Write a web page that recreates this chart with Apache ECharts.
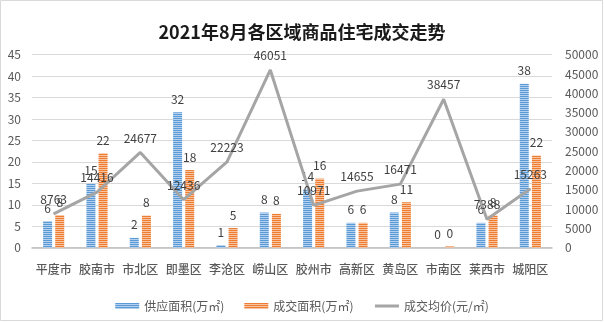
<!DOCTYPE html>
<html><head><meta charset="utf-8">
<script src="https://cdn.jsdelivr.net/npm/echarts@6/dist/echarts.min.js"></script>
<style>html,body{margin:0;padding:0;background:#fff}#c{width:604px;height:322px}</style>
</head><body><div id="c"></div>
<script>
const categories = ['平度市','胶南市','市北区','即墨区','李沧区','崂山区','胶州市','高新区','黄岛区','市南区','莱西市','城阳区'];
const supplyArea = [6.2, 14.9, 2.3, 31.6, 0.6, 8.2, 13.6, 5.8, 8.2, 0, 5.8, 38.2];
const dealArea = [7.6, 22.0, 7.5, 18.1, 4.6, 7.9, 16.1, 5.8, 10.6, 0.3, 7.5, 21.5];
const avgPrice = [8763, 14416, 24677, 12436, 22223, 46051, 10971, 14655, 16471, 38457, 7388, 15263];
const leftTicks = {min: 0, max: 45, interval: 5};
const rightTicks = {min: 0, max: 50000, interval: 5000};

function stripe(c1, c2) {
  const cv = document.createElement('canvas');
  cv.width = 4; cv.height = 2;
  const ctx = cv.getContext('2d');
  ctx.fillStyle = c1; ctx.fillRect(0, 0, 4, 1);
  ctx.fillStyle = c2; ctx.fillRect(0, 1, 4, 1);
  return {image: cv, repeat: 'repeat'};
}
const blue = stripe('#5b9bd5', '#b4d0ee');
const orange = stripe('#ed7d31', '#f7c3a0');
const font = '"Noto Sans CJK SC", "Noto Sans", sans-serif';
const chart = echarts.init(document.getElementById('c'), null, {renderer: 'canvas'});
const lbl = {show: true, position: 'top', distance: 7, color: '#404040', fontSize: 12, fontFamily: font,
  formatter: p => Math.round(p.value)};
chart.setOption({
  animation: false,
  textStyle: {fontFamily: font},
  graphic: [{type: 'rect', shape: {x: 0.5, y: 0.5, width: 602, height: 320}, style: {fill: 'none', stroke: '#d9d9d9', lineWidth: 1}}],
  title: {text: '2021年8月各区域商品住宅成交走势', left: 'center', top: 18,
    textStyle: {fontSize: 18, fontWeight: 'bold', color: '#1a1a1a', fontFamily: font}},
  grid: {left: 32, right: 52, top: 54.7, bottom: 74.3, containLabel: false},
  legend: {bottom: 5, left: 'center', itemWidth: 24, itemHeight: 6, itemGap: 20,
    textStyle: {fontSize: 12, color: '#595959', fontFamily: font},
    data: [{name: '供应面积(万㎡)', icon: 'rect'}, {name: '成交面积(万㎡)', icon: 'rect'},
      {name: '成交均价(元/㎡)', itemStyle: {opacity: 0}, lineStyle: {width: 3, color: '#a5a5a5'}}]},
  xAxis: {type: 'category', data: categories,
    axisLine: {lineStyle: {color: '#bfbfbf', width: 1.5}}, axisTick: {show: false},
    axisLabel: {color: '#595959', fontSize: 12, margin: 16, interval: 0, fontFamily: font, fontWeight: 500}},
  yAxis: [
    {type: 'value', min: leftTicks.min, max: leftTicks.max, interval: leftTicks.interval,
      axisLine: {show: false}, axisTick: {show: false},
      axisLabel: {color: '#595959', fontSize: 12, margin: 11},
      splitLine: {lineStyle: {color: '#d9d9d9'}}},
    {type: 'value', min: rightTicks.min, max: rightTicks.max, interval: rightTicks.interval,
      axisLine: {show: false}, axisTick: {show: false},
      axisLabel: {color: '#595959', fontSize: 12, margin: 13, formatter: v => String(v)},
      splitLine: {show: false}}
  ],
  series: [
    {name: '供应面积(万㎡)', type: 'bar', data: supplyArea, barWidth: 9, barGap: '35%',
      itemStyle: {color: blue}, label: lbl},
    {name: '成交面积(万㎡)', type: 'bar', data: dealArea, barWidth: 9,
      itemStyle: {color: orange}, label: lbl},
    {name: '成交均价(元/㎡)', type: 'line', yAxisIndex: 1, data: avgPrice, symbol: 'circle', symbolSize: 1,
      showSymbol: true,
      lineStyle: {color: '#a5a5a5', width: 3}, itemStyle: {color: '#a5a5a5'}, z: 3,
      labelLayout: {hideOverlap: false},
      label: {show: true, position: 'top', distance: 8, color: '#404040', fontSize: 12, fontFamily: font}}
  ]
});
</script></body></html>
